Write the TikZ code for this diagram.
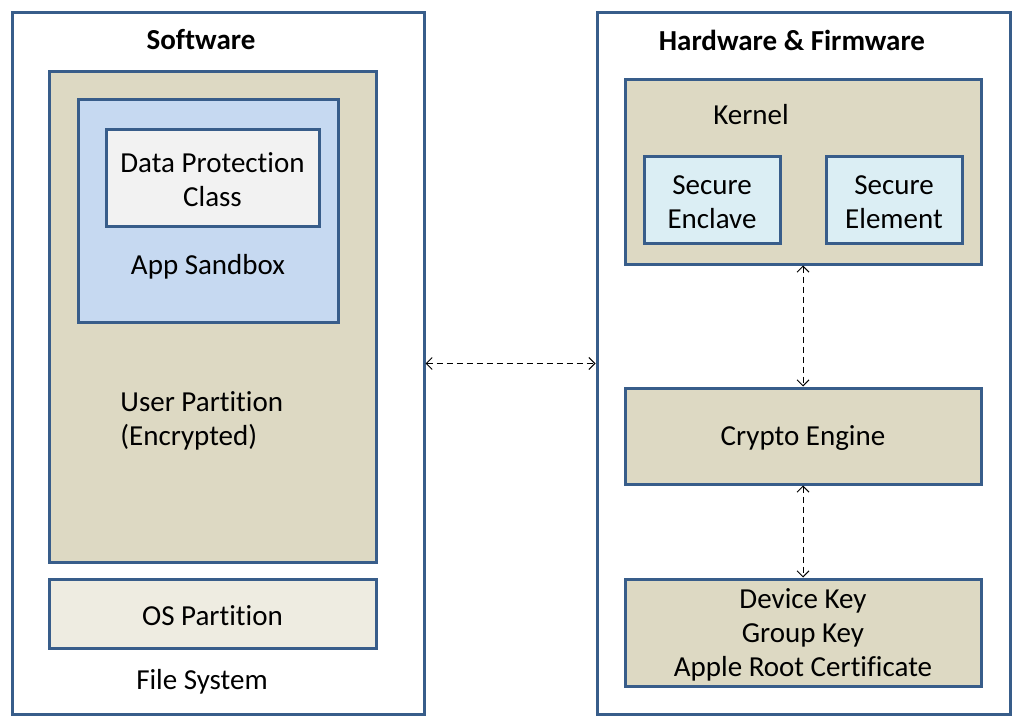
\documentclass[tikz,border=0pt]{standalone}
\usepackage{fontspec}
\setmainfont{Carlito}[Ligatures=NoCommon]
\usetikzlibrary{fit,arrows.meta}
\definecolor{frameblue}{HTML}{385D8A}
\definecolor{tanfill}{HTML}{DDD9C3}
\definecolor{sandfill}{HTML}{C6D9F1}
\definecolor{classfill}{HTML}{F2F2F2}
\definecolor{securefill}{HTML}{DBEEF4}
\definecolor{osfill}{HTML}{EEECE1}
\begin{document}
\begin{tikzpicture}[x=0.5pt, y=-0.5pt,
  every node/.style={font=\fontsize{14.5}{17}\selectfont},
  box/.style={draw=frameblue, line width=1.5pt, inner sep=0pt},
  lbl/.style={align=center, inner sep=0pt, yshift=-1pt},
  link/.style={densely dashed, line width=0.5pt, {Straight Barb[length=3pt,width=6pt]}-{Straight Barb[length=3pt,width=6pt]}}]
  \useasboundingbox (0,0) rectangle (1023,722);

  % left side
  \node[box, fill=white, fit={(12,13) (424,714)}] (sw) {};
  \node[box, fill=tanfill, fit={(49,72) (376,562)}] (user) {};
  \node[box, fill=sandfill, fit={(78,100) (338,322)}] (sandbox) {};
  \node[box, fill=classfill, fit={(106,130) (319,226)}] (dpc) {};
  \node[box, fill=osfill, fit={(49,579) (376,648)}] (os) {};

  \node[lbl] (dpclabel) at (dpc.center) {Data Protection\\Class};
  \node[lbl] (oslabel) at (os.center) {OS Partition};
  \node[lbl, font=\fontsize{14.5}{17}\selectfont\bfseries] (swtitle) at (201,38) {Software};
  \node[lbl] (sandlabel) at (208,265) {App Sandbox};
  \node[lbl, align=left, anchor=west] (userlabel) at (120,419) {User Partition\\(Encrypted)};
  \node[lbl] (fslabel) at (202,680) {File System};

  % right side
  \node[box, fill=white, fit={(597,13) (1010,714)}] (hw) {};
  \node[box, fill=tanfill, fit={(625,80) (981,264)}] (kern) {};
  \node[box, fill=securefill, fit={(644,157) (780,243)}] (enclave) {};
  \node[box, fill=securefill, fit={(826,157) (962,243)}] (element) {};
  \node[box, fill=tanfill, fit={(625,388) (981,484)}] (crypto) {};
  \node[box, fill=tanfill, fit={(625,579) (981,686)}] (keys) {};

  \node[lbl] (enclavelabel) at (enclave.center) {Secure\\Enclave};
  \node[lbl] (elementlabel) at (element.center) {Secure\\Element};
  \node[lbl] (cryptolabel) at (crypto.center) {Crypto Engine};
  \node[lbl] (keyslabel) at (keys.center) {Device Key\\Group Key\\Apple Root Certificate};
  \node[lbl, font=\fontsize{14.5}{17}\selectfont\bfseries] (hwtitle) at (792,38) {Hardware \& Firmware};
  \node[lbl] (kernlabel) at (751,113) {Kernel};

  % connectors
  \draw[link] (sw.east) -- (hw.west);
  \draw[link] (kern.south) -- (crypto.north);
  \draw[link] (crypto.south) -- (keys.north);
\end{tikzpicture}
\end{document}
